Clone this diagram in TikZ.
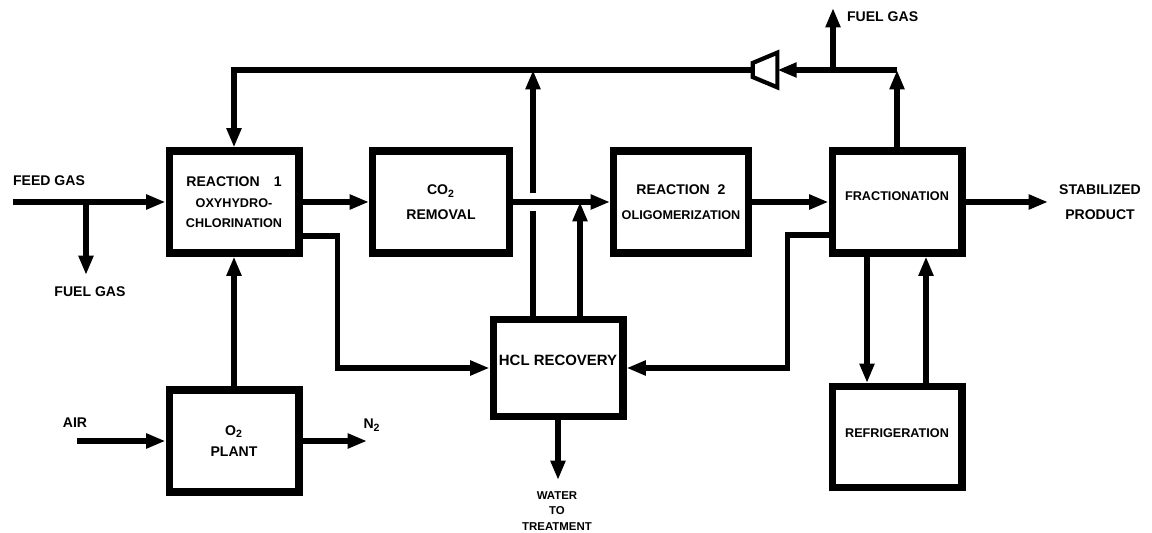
\documentclass[tikz,border=0pt]{standalone}
\usepackage{fontspec}
\setmainfont{Liberation Sans}
\usetikzlibrary{arrows.meta, positioning, calc}

\newcommand{\subfont}{\fontsize{7.2}{8.5}\selectfont}

\begin{document}
\begin{tikzpicture}[
  x=0.02cm, y=-0.02cm,
  box/.style    ={draw, line width=4pt, inner sep=0pt, minimum width=2.6cm,
                  minimum height=2.04cm, align=center,
                  font=\bfseries\fontsize{8}{11}\selectfont},
  boxtxt/.style ={align=center, inner sep=0pt, font=\bfseries\subfont},
  lbl/.style    ={align=center, inner sep=1pt, font=\bfseries\fontsize{8}{14}\selectfont},
  flow/.style   ={line width=3.2pt},
  arr/.style    ={flow, -{Triangle[length=11pt, width=8pt]}},
]
\useasboundingbox (0,0) rectangle (1152,533);

%% ---- Main line ----
\node[box] (r1) at (234,202) {REACTION\quad 1\\[1pt]\subfont OXYHYDRO-\\\subfont CHLORINATION};
\node[box, minimum width=2.74cm] (co2) at (441,202) {CO\textsubscript{2}\\[3pt]REMOVAL};
\node[box, minimum width=2.7cm] (r2) at (681,202) {REACTION\ \ 2\\[3pt]\subfont OLIGOMERIZATION};
\node[box, label={[boxtxt, yshift=0.12cm]center:FRACTIONATION}] (frac) at (897,202) {};

%% ---- Lower row ----
\node[box] (o2) at (234,441) {O\textsubscript{2}\\[1pt]PLANT};
\node[box, minimum height=1.94cm,
      label={[boxtxt, font=\bfseries\fontsize{8.5}{10}\selectfont, yshift=0.16cm]center:HCL RECOVERY}] (hcl) at (558,368) {};
\node[box, minimum height=2.02cm, label={[boxtxt, yshift=0.08cm]center:REFRIGERATION}] (refr) at (897,437) {};

%% ---- Compressor on the recycle line ----
\node[inner sep=0pt, minimum width=0.48cm, minimum height=0.68cm] (comp) at (765,70) {};
\draw[line width=2.4pt, line join=miter] (comp.north east) -- (comp.south east)
  -- ($(comp.west)+(0,7)$) -- ($(comp.west)+(0,-7)$) -- cycle;

%% ---- Free ends and bends ----
\coordinate (feed)   at (13,202);
\coordinate (fsplit) at (86,202);
\coordinate (fuelL)  at (86,275);
\coordinate (air)    at (77,441);
\coordinate (n2)     at (367,441);
\coordinate (prod)   at (1048,202);
\coordinate (ret)    at (533,70);
\coordinate (mix)    at (580,202);
\coordinate (fuelB)  at (833,70);
\coordinate (fuelT)  at (833,8);
\coordinate (topR)   at (frac.north |- comp.east);
\coordinate (water)  at ($(hcl.south)+(0,60)$);

%% ---- Labels ----
\node[lbl] (feedlbl)  at (49,181)  {FEED GAS};
\node[lbl] (fuelLlbl) at (90,292)  {FUEL GAS};
\node[lbl] (airlbl)   at (75,423)  {AIR};
\node[lbl] (n2lbl)    at (372,425) {N\textsubscript{2}};
\node[lbl] (prodlbl)  at (1100,202) {STABILIZED\\PRODUCT};
\node[lbl, anchor=west] (fuelTlbl) at (845,17) {FUEL GAS};
\node[lbl, font=\bfseries\fontsize{6.5}{8.8}\selectfont] (waterlbl) at (557,511) {WATER\\TO\\TREATMENT};

%% ---- Arrows ----
%% Feed and main line
\draw[arr] (feed) -- (r1.west);
\draw[arr] (fsplit) -- (fuelL);
\draw[arr] (r1.east) -- (co2.west);
\draw[arr] (co2.east) -- (r2.west);
\draw[arr] (r2.east) -- (frac.west);
\draw[arr] (frac.east) -- (prod);
%% Oxygen plant
\draw[arr] (air) -- (o2.west);
\draw[arr] (o2.east) -- (n2);
\draw[arr] (o2.north) -- (r1.south);
%% HCl recovery loop
\draw[arr] ($(r1.east)+(0,34)$) -- ++(35,0) |- (hcl.west);
\draw[arr] ($(frac.west)+(0,33)$) -- ++(-41,0) |- (hcl.east);
\draw[arr] (hcl.south) -- (water);
\draw[flow] (hcl.north -| ret) -- ($(co2.east -| ret)+(0,9)$);
\draw[arr] ($(co2.east -| ret)+(0,-9)$) -- (ret);
\draw[arr] (hcl.north -| mix) -- (mix);
%% Recycle gas
\draw[arr] (frac.north) -- (topR);
\draw[arr] (topR) -- (comp.east);
\draw[arr] (fuelB) -- (fuelT);
\draw[arr] (comp.west) -| (r1.north);
%% Refrigeration
\draw[arr] ($(frac.south)+(-30,0)$) -- ($(refr.north)+(-30,0)$);
\draw[arr] ($(refr.north)+(29,0)$) -- ($(frac.south)+(29,0)$);

\end{tikzpicture}
\end{document}
